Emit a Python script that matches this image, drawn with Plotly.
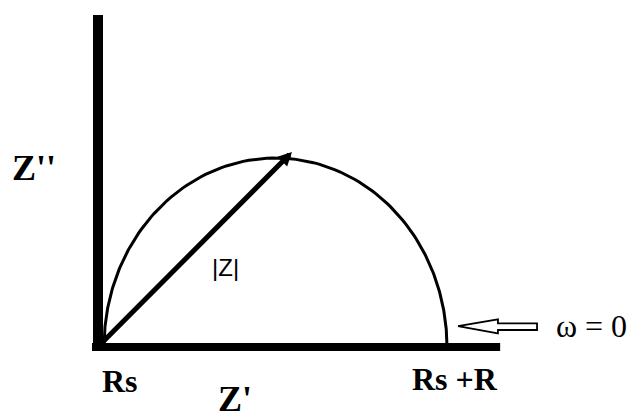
import numpy as np
import plotly.graph_objects as go

# ---- data (plot units) ----
Rs = 0.035          # series resistance (start of semicircle)
R = 2.0             # charge-transfer resistance (diameter of semicircle)
C = 1.0             # capacitance (shape only)
omega = np.logspace(-3, 3, 400)   # angular frequencies
axis_x_end = 2.345
axis_y_end = 1.757
Zmod_tip = (1.131, 1.032)          # tip of |Z| vector

labels_axis = ["Z''", "Z'"]
labels_points = ["Rs", "Rs +R"]
label_vector = "|Z|"
label_omega = "\u03c9 = 0"

# Randles circuit impedance -> semicircle
Z = Rs + R / (1 + 1j * omega * R * C)
Zre, Zim = Z.real, -Z.imag

W, H = 633, 415
X_RANGE = [-98 / 171.5, 535 / 171.5]
Y_RANGE = [-68 / 189, 347 / 189]

fig = go.Figure()

# semicircle
fig.add_trace(go.Scatter(x=Zre, y=Zim, mode="lines",
                         line=dict(color="black", width=3), hoverinfo="skip"))
# axes
fig.add_trace(go.Scatter(x=[0, 0], y=[-0.02, axis_y_end], mode="lines",
                         line=dict(color="black", width=10), hoverinfo="skip"))
fig.add_trace(go.Scatter(x=[-0.035, axis_x_end], y=[0, 0], mode="lines",
                         line=dict(color="black", width=8), hoverinfo="skip"))

# hollow arrow pointing at omega = 0 point (offsets relative to Rs+R)
tipx, tipy = Rs + R + 0.064, 0.111
hx = [0, 0.233, 0.233, 0.461, 0.461, 0.233, 0.233, 0]
hy = [0, 0.035, 0.014, 0.014, -0.021, -0.021, -0.039, 0]
fig.add_trace(go.Scatter(x=[tipx + v for v in hx], y=[tipy + v for v in hy],
                         mode="lines", fill="toself", fillcolor="white",
                         line=dict(color="black", width=1.8), hoverinfo="skip"))

# |Z| vector
fig.add_annotation(x=Zmod_tip[0], y=Zmod_tip[1], ax=0.01, ay=0.01,
                   xref="x", yref="y", axref="x", ayref="y",
                   showarrow=True, arrowhead=2, arrowsize=0.55, arrowwidth=5,
                   arrowcolor="black", standoff=0, text="")

def px(x, y):
    return x / W, 1 - y / H

def lab(text, x, y, size, bold=True, family="Liberation Serif"):
    pxx, pyy = px(x, y)
    t = f"<b>{text}</b>" if bold else text
    fig.add_annotation(x=pxx, y=pyy, xref="paper", yref="paper", text=t,
                       showarrow=False, xanchor="left", yanchor="middle",
                       font=dict(family=family, size=size, color="black"))

lab(labels_axis[0], 10, 168, 36)
lab(labels_axis[1], 216, 399, 36)
lab(labels_points[0], 100, 381, 32)
lab(labels_points[1], 410, 379, 32)
lab(label_vector, 210, 267, 24, bold=False, family="Liberation Sans")
lab(label_omega, 554, 326, 32, bold=False)

fig.update_layout(
    width=W, height=H, margin=dict(l=0, r=0, t=0, b=0),
    paper_bgcolor="white", plot_bgcolor="white", showlegend=False,
    xaxis=dict(range=X_RANGE, visible=False, fixedrange=True),
    yaxis=dict(range=Y_RANGE, visible=False, fixedrange=True),
)

fig.write_html("out.html", config={"displayModeBar": False},
               post_script="document.body.style.margin='0';document.body.style.overflow='hidden';")
